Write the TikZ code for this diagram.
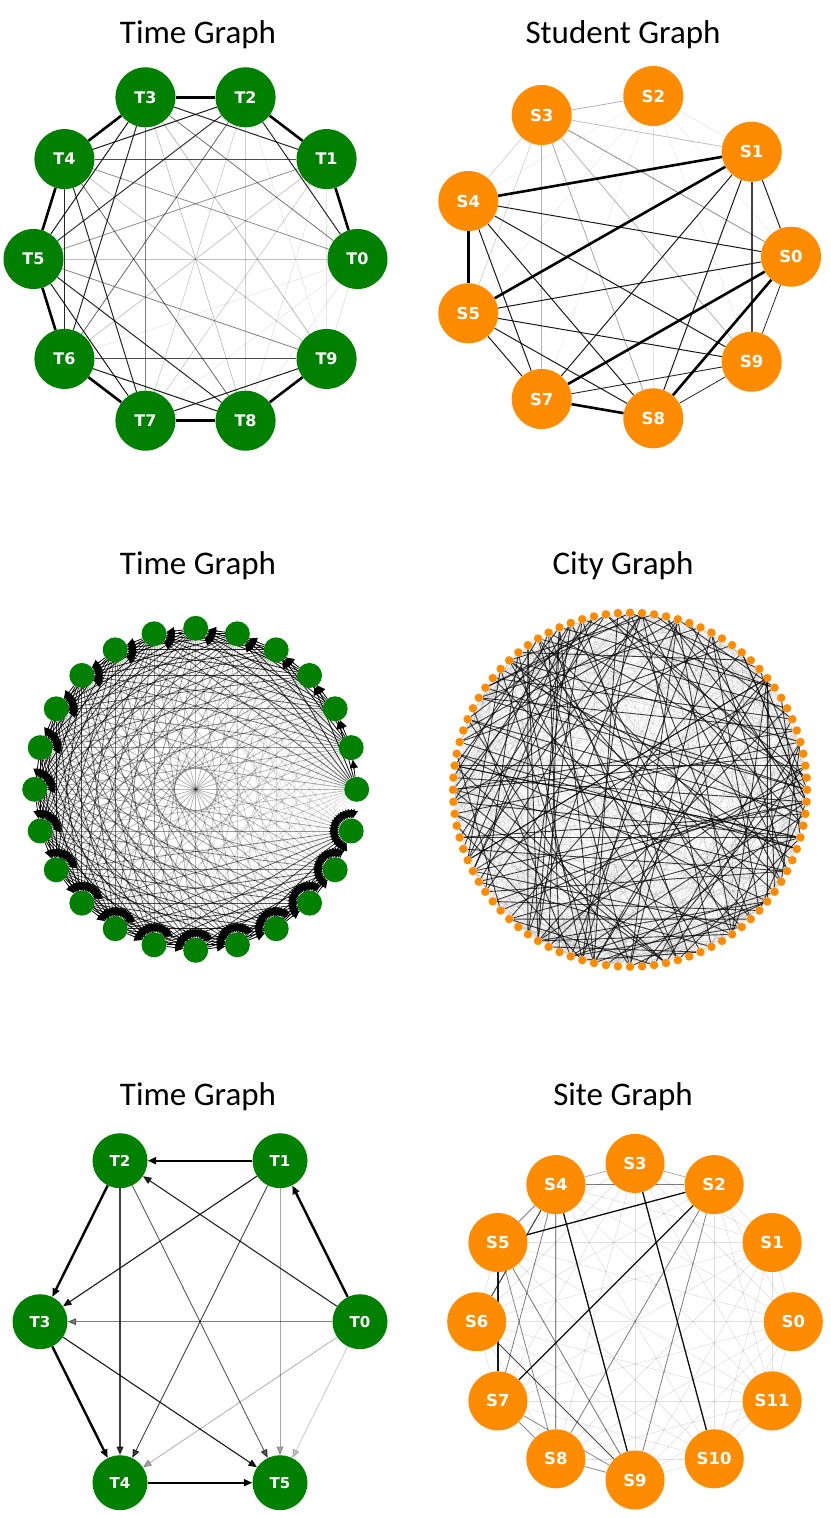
\documentclass[tikz,border=0pt]{standalone}
\usepackage{fontspec}
\newfontfamily\ttl{Carlito}
\newfontfamily\lab{DejaVu Sans}
\usetikzlibrary{arrows.meta,calc,backgrounds}
\definecolor{gG}{RGB}{0,128,0}
\definecolor{gO}{RGB}{255,140,0}
\begin{document}
\begin{tikzpicture}[x=1pt,y=-1pt,
  ttlstyle/.style={font=\ttl\fontsize{33}{33}\selectfont, anchor=base, inner sep=0pt},
  gnode/.style={circle, fill=gG, inner sep=0pt, text=white},
  onode/.style={circle, fill=gO, inner sep=0pt, text=white},
  lblA/.style={font=\lab\bfseries\fontsize{16}{16}\selectfont},
  lblB/.style={font=\lab\bfseries\fontsize{16.5}{16.5}\selectfont},
  lblC/.style={font=\lab\bfseries\fontsize{15}{15}\selectfont},
  arr/.style={-{Triangle[length=8.5pt,width=7pt]}},
  cdark/.style={line width=0.9pt, draw opacity=0.75},
  cfaint/.style={line width=0.5pt, draw opacity=0.08},
]
\useasboundingbox (0,0) rectangle (830,1518);

% ---------- titles ----------
\node[ttlstyle] (t1) at (198,43) {Time Graph};
\node[ttlstyle] (t2) at (623,43) {Student Graph};
\node[ttlstyle] (t3) at (198,574) {Time Graph};
\node[ttlstyle] (t4) at (623,574) {City Graph};
\node[ttlstyle] (t5) at (198,1105) {Time Graph};
\node[ttlstyle] (t6) at (623,1105) {Site Graph};

% ---------- panel 1 : Time Graph (10 nodes) ----------
\foreach \i in {0,...,9}{
  \node[gnode, lblA, minimum size=60pt] (a\i) at ({195.5+162*cos(36*\i)},{259-170*sin(36*\i)}) {T\i};
}
\begin{scope}[on background layer]
\foreach \i/\j/\w/\o in {
  0/1/2.6/1, 1/2/2.6/1, 2/3/2.6/1, 3/4/2.6/1, 4/5/2.6/1, 5/6/2.6/1, 6/7/2.6/1, 7/8/2.6/1, 8/9/2.6/1, 0/9/0.7/0.12,
  1/3/1/0.85, 0/2/1/0.85, 2/4/1/0.9, 3/5/1/0.9, 2/5/1/0.8, 4/6/1.8/0.85, 3/6/1/0.85, 5/7/1/0.9,
  5/8/1/0.85, 4/7/1/0.85, 6/8/1/0.9, 7/9/1/0.9, 1/4/1/0.7, 6/9/1/0.7,
  3/7/0.8/0.5, 0/3/0.8/0.55, 0/4/0.8/0.45, 1/5/0.8/0.45, 5/9/0.8/0.5, 4/8/0.8/0.6, 2/6/0.8/0.6,
  0/5/0.7/0.25, 1/6/0.7/0.25, 2/7/0.7/0.2, 3/8/0.7/0.25, 4/9/0.7/0.25, 1/7/0.7/0.2, 2/8/0.7/0.2, 3/9/0.7/0.3,
  0/6/0.6/0.1, 0/7/0.6/0.1, 0/8/0.6/0.1, 1/8/0.6/0.12, 1/9/0.6/0.1, 2/9/0.6/0.1}{
  \draw[line width=\w pt, draw opacity=\o] (a\i) -- (a\j);
}
\end{scope}

% ---------- panel 2 : Student Graph ----------
\foreach \n/\x/\y in {0/791/256.7, 1/751.7/151.7, 2/653.3/96, 3/541.7/115, 4/468.3/201,
  5/468.3/313.3, 7/541.7/399, 8/653.3/418.3, 9/751.7/361.7}{
  \node[onode, lblB, minimum size=60pt] (b\n) at (\x,\y) {S\n};
}
\begin{scope}[on background layer]
\foreach \i/\j/\w/\o in {
  4/1/2.6/1, 5/1/2.6/1, 4/5/2.6/1, 7/0/2.6/1, 8/0/2.6/1, 7/8/2.6/1,
  4/0/1/0.9, 4/9/1/0.9, 4/8/1/0.9, 4/7/1/0.9, 5/0/1/0.9, 5/9/1/0.9, 5/8/1/0.9, 5/7/1/0.9,
  1/7/1/0.9, 1/8/1/0.9, 1/0/1/0.9, 0/9/0.8/0.85, 9/7/0.9/0.85, 9/8/0.8/0.85, 1/9/1.8/0.75,
  3/2/0.8/0.3, 3/1/0.8/0.25, 3/0/0.8/0.45, 3/4/0.6/0.2, 3/5/0.6/0.2, 3/7/0.8/0.3, 3/8/0.8/0.35, 3/9/0.8/0.3,
  2/1/0.6/0.1, 2/8/0.6/0.1, 2/7/0.6/0.08, 2/5/0.6/0.08, 2/4/0.6/0.08, 2/0/0.6/0.08, 2/9/0.6/0.08}{
  \draw[line width=\w pt, draw opacity=\o] (b\i) -- (b\j);
}
\end{scope}

% ---------- panel 3 : Time Graph (24 nodes, directed) ----------
\foreach \i in {0,...,23}{
  \node[gnode, minimum size=25pt] (c\i) at ({195.7+161*cos(15*\i)},{789.3-161*sin(15*\i)}) {};
}
\begin{scope}[on background layer]
\foreach \i in {0,...,22}{
  \pgfmathtruncatemacro{\s}{\i+1}
  \foreach \j in {\s,...,23}{
    \pgfmathsetmacro{\q}{1-(\j-\i-1)/22}
    \pgfmathsetmacro{\o}{min(1,max(0.03,1.15*\q*\q))}
    \draw[line width=0.8pt, draw opacity=\o] (c\i) -- (c\j);
    \draw[line width=0.9pt, -{Triangle[length=8pt,width=8pt]}] ($(c\j.center)!22pt!(c\i.center)$) -- ($(c\j.center)!12.5pt!(c\i.center)$);
  }
}
\end{scope}

% ---------- panel 4 : City Graph ----------
\foreach \i in {0,...,91}{
  \node[onode, minimum size=8.5pt] (d\i) at ({630+177*cos(\i*3.9130435)},{789.7-177*sin(\i*3.9130435)}) {};
}
\begin{scope}[on background layer]
\pgfmathsetseed{4242}
\foreach \n in {1,...,600}{
  \pgfmathrandominteger{\ia}{0}{91}
  \pgfmathrandominteger{\rr}{5}{87}
  \pgfmathtruncatemacro{\ib}{mod(\ia+\rr,92)}
  \draw[cfaint] (d\ia) -- (d\ib);
}
\pgfmathsetseed{777}
\foreach \n in {1,...,120}{
  \pgfmathrandominteger{\ia}{0}{91}
  \pgfmathrandominteger{\rr}{10}{82}
  \pgfmathtruncatemacro{\ib}{mod(\ia+\rr,92)}
  \draw[cdark] (d\ia) -- (d\ib);
}
\foreach \i/\j in {29/61, 29/62, 28/60, 30/63, 27/61, 29/66, 28/52, 2/44, 90/40, 90/50, 89/35, 1/30, 1/57,
  91/20, 3/46, 88/58, 2/70, 0/38, 89/25, 91/64, 4/48, 87/42, 22/60, 31/75, 46/5, 47/88}{
  \draw[cdark] (d\i) -- (d\j);
}
\end{scope}

% ---------- panel 5 : Time Graph (6 nodes, directed) ----------
\foreach \n/\x/\y in {0/360/1321.7, 1/280/1160.7, 2/120/1160.7, 3/40/1321.7, 4/120/1482.7, 5/280/1482.7}{
  \node[gnode, lblC, minimum size=55pt] (e\n) at (\x,\y) {T\n};
}
\begin{scope}[on background layer]
\foreach \i/\j/\w/\o in {
  0/1/2.4/1, 1/2/2.4/1, 2/3/2.4/1, 3/4/2.4/1, 4/5/2.4/1,
  0/2/1.1/0.85, 1/3/1.1/0.9, 2/4/1.4/0.75, 3/5/1.1/0.9,
  0/3/0.9/0.5, 1/4/0.9/0.75, 2/5/0.9/0.65,
  0/4/0.7/0.35, 1/5/0.7/0.35, 0/5/0.6/0.25}{
  \draw[arr, line width=\w pt, opacity=\o] (e\i) -- (e\j);
}
\end{scope}

% ---------- panel 6 : Site Graph (12 nodes) ----------
\foreach \i in {0,...,11}{
  \node[onode, lblB, minimum size=59pt] (f\i) at ({635+158.3*cos(30*\i)},{1321.7-158.3*sin(30*\i)}) {S\i};
}
\begin{scope}[on background layer]
\foreach \i in {0,...,10}{
  \pgfmathtruncatemacro{\s}{\i+1}
  \foreach \j in {\s,...,11}{
    \draw[line width=0.6pt, draw opacity=0.12] (f\i) -- (f\j);
  }
}
\foreach \i/\j/\w/\o in {
  3/10/1.3/0.95, 4/9/1.3/0.95, 2/5/1.3/0.95, 2/7/1.3/0.95, 5/7/1.3/0.9,
  4/6/1/0.75, 6/9/1/0.7, 4/5/0.8/0.45,
  4/2/0.9/0.45, 4/8/0.9/0.45, 5/9/0.9/0.45, 5/8/0.8/0.4, 4/7/0.8/0.45, 2/8/0.8/0.45, 2/9/0.8/0.45,
  7/8/0.8/0.4, 7/9/0.8/0.4, 8/9/0.8/0.4, 4/3/0.8/0.25, 3/2/0.8/0.25}{
  \draw[line width=\w pt, draw opacity=\o] (f\i) -- (f\j);
}
\end{scope}
\end{tikzpicture}
\end{document}
